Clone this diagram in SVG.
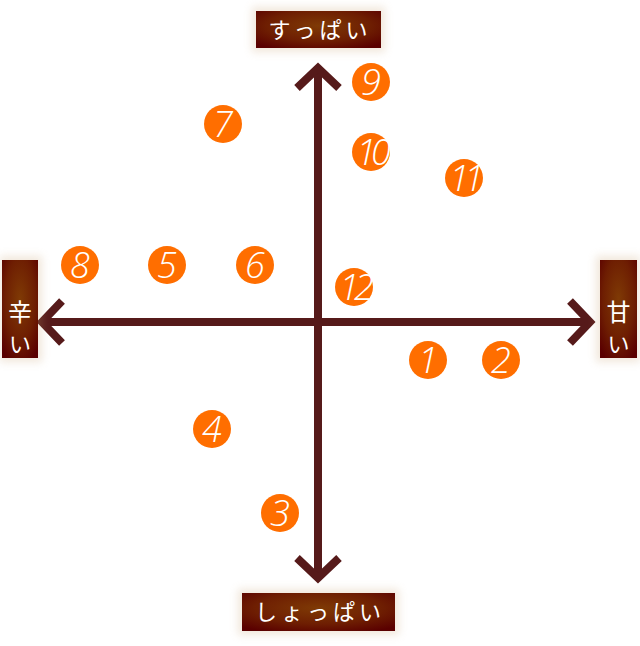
<svg xmlns="http://www.w3.org/2000/svg" width="640" height="646" viewBox="0 0 640 646">
<defs>
<radialGradient id="bg" cx="50%" cy="40%" r="70%">
<stop offset="0" stop-color="#7f3a05"/>
<stop offset="0.6" stop-color="#6e1e02"/>
<stop offset="1" stop-color="#5a0000"/>
</radialGradient>
<filter id="blur" x="-50%" y="-50%" width="200%" height="200%"><feGaussianBlur stdDeviation="4"/></filter>
</defs>
<style>
.box{fill:url(#bg);}
.lbl{font-family:"Noto Sans CJK JP",sans-serif;fill:#fff;font-size:22px;}
.side{font-size:24px;}
.ax{stroke:#561a1a;stroke-width:8;fill:none;}
.c{fill:#ff6e00;}
.n{font-family:"Open Sans","Noto Sans",sans-serif;font-style:italic;font-weight:300;fill:#fff;font-size:36px;text-anchor:middle;}
.shadow{fill:#c8a070;opacity:0.25;filter:url(#blur);}
</style>
<g id="connectors">
<line class="ax" x1="318" y1="68" x2="318" y2="578"/>
<line class="ax" x1="44" y1="322" x2="586" y2="322"/>
<polyline class="ax" points="297,88 318,68 339,88"/>
<polyline class="ax" points="297,558 318,578 339,558"/>
<polyline class="ax" points="62,301 42,322 62,343"/>
<polyline class="ax" points="570,301 590,322 570,343"/>
</g>
<g id="label-top">
<rect class="shadow" x="252" y="7" width="133" height="45"/>
<rect class="box" x="256" y="11" width="125" height="37"/>
<text class="lbl" x="320" y="38" text-anchor="middle" letter-spacing="4">すっぱい</text>
</g>
<g id="label-bottom">
<rect class="shadow" x="238" y="589" width="161" height="46"/>
<rect class="box" x="242" y="593" width="153" height="38"/>
<text class="lbl" x="320" y="620" text-anchor="middle" letter-spacing="4">しょっぱい</text>
</g>
<g id="label-left">
<rect class="shadow" x="0" y="256" width="42" height="106"/>
<rect class="box" x="2" y="260" width="36" height="98"/>
<text class="lbl side" x="20" y="321" text-anchor="middle">辛</text>
<text class="lbl" x="20" y="352" text-anchor="middle">い</text>
</g>
<g id="label-right">
<rect class="shadow" x="596" y="256" width="44" height="106"/>
<rect class="box" x="600" y="260" width="37" height="98"/>
<text class="lbl side" x="618.5" y="321" text-anchor="middle">甘</text>
<text class="lbl" x="618.5" y="352" text-anchor="middle">い</text>
</g>
<g id="n1"><circle class="c" cx="428" cy="360" r="19"/><text class="n" x="428" y="373">1</text></g>
<g id="n2"><circle class="c" cx="501" cy="360" r="19"/><text class="n" x="501" y="373">2</text></g>
<g id="n3"><circle class="c" cx="280" cy="513" r="19"/><text class="n" x="280" y="526">3</text></g>
<g id="n4"><circle class="c" cx="212" cy="429" r="19"/><text class="n" x="212" y="442">4</text></g>
<g id="n5"><circle class="c" cx="167" cy="265" r="19"/><text class="n" x="167" y="278">5</text></g>
<g id="n6"><circle class="c" cx="255" cy="265" r="19"/><text class="n" x="255" y="278">6</text></g>
<g id="n7"><circle class="c" cx="223" cy="124" r="19"/><text class="n" x="223" y="137">7</text></g>
<g id="n8"><circle class="c" cx="80" cy="265" r="19"/><text class="n" x="80" y="278">8</text></g>
<g id="n9"><circle class="c" cx="371" cy="82" r="19"/><text class="n" x="371" y="95">9</text></g>
<g id="n10"><circle class="c" cx="371" cy="152" r="19"/><text class="n" x="371" y="165" letter-spacing="-5">10</text></g>
<g id="n11"><circle class="c" cx="464" cy="178" r="19"/><text class="n" x="464" y="191" letter-spacing="-5">11</text></g>
<g id="n12"><circle class="c" cx="354" cy="287" r="19"/><text class="n" x="354" y="300" letter-spacing="-5">12</text></g>
</svg>
